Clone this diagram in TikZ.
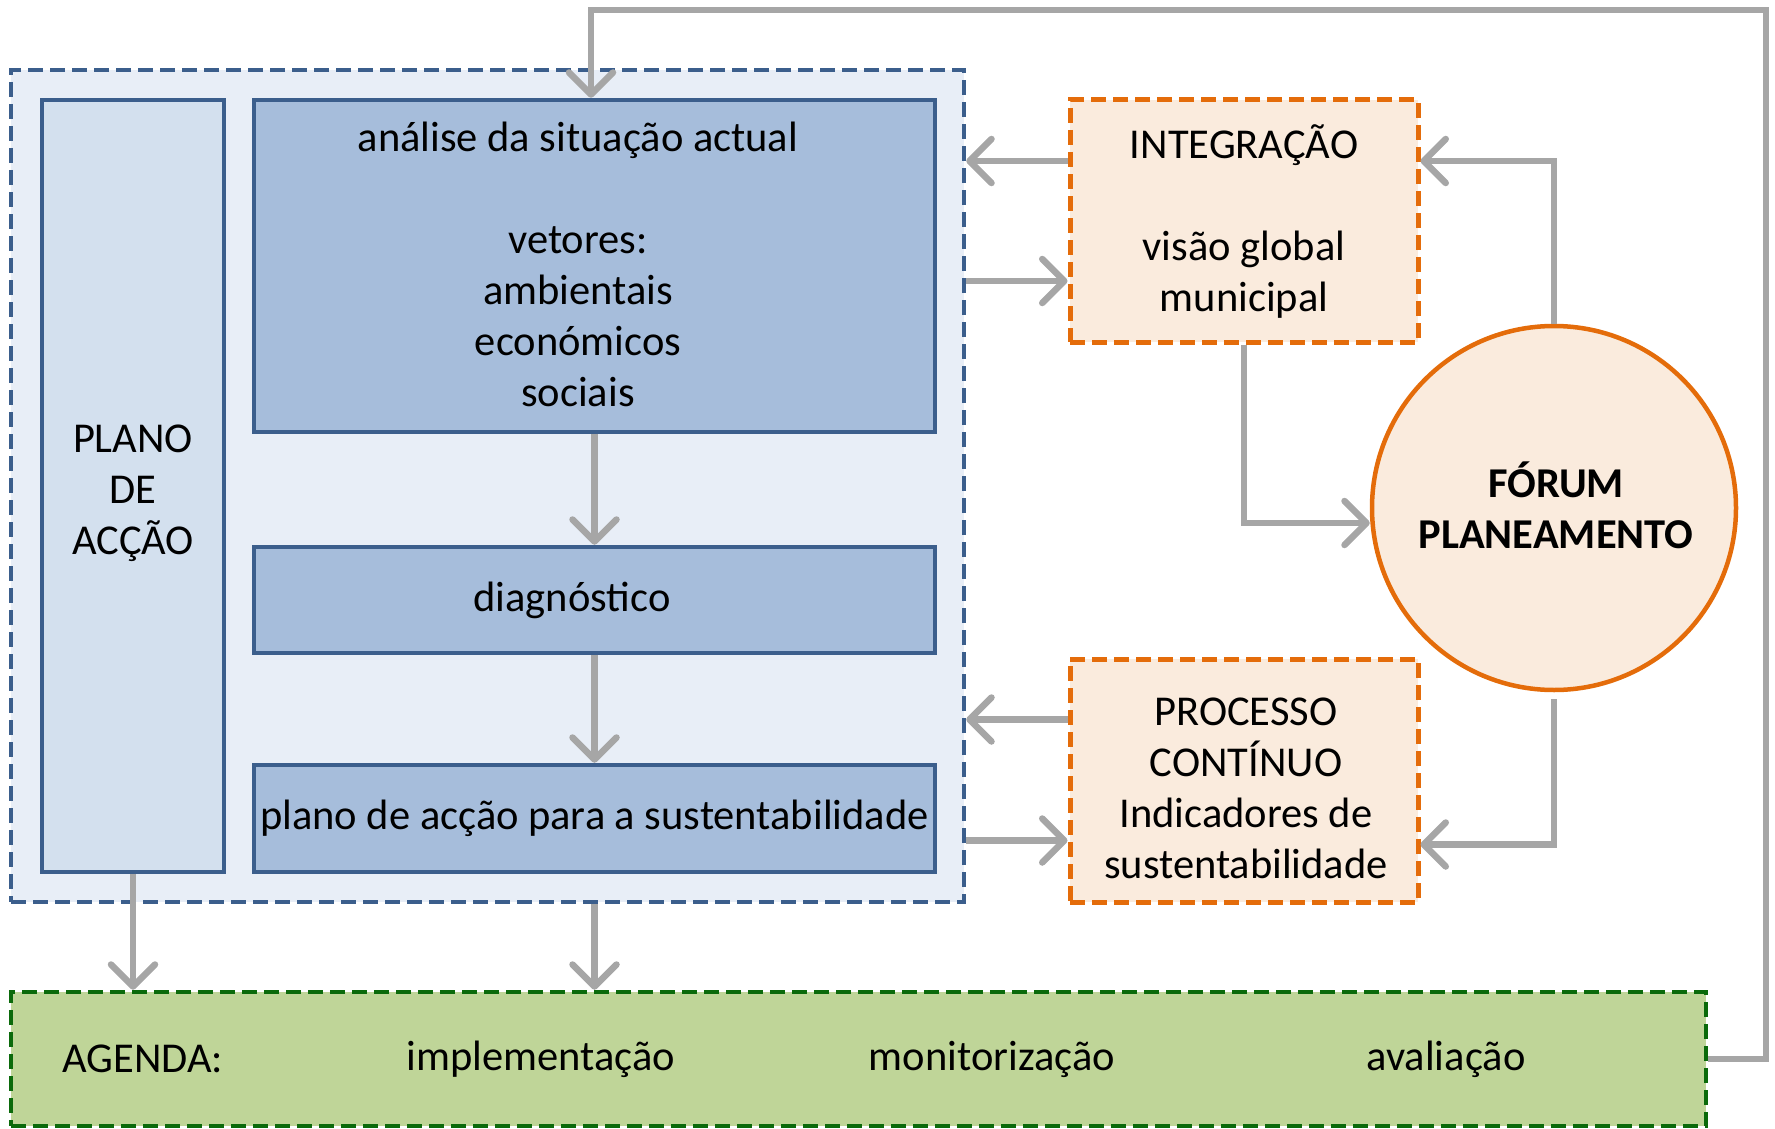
\documentclass[tikz,border=0pt]{standalone}
\usepackage{fontspec}
\setmainfont{Carlito}
\usetikzlibrary{arrows.meta}
\definecolor{gline}{HTML}{A6A6A6}
\definecolor{bdark}{HTML}{3B5E8C}
\definecolor{bouter}{HTML}{E8EEF7}
\definecolor{blight}{HTML}{D3E0EE}
\definecolor{bmid}{HTML}{A6BDDB}
\definecolor{odark}{HTML}{E46C0A}
\definecolor{olight}{HTML}{FAEBDD}
\definecolor{gdark}{HTML}{0B6A0B}
\definecolor{glight}{HTML}{BFD598}
\begin{document}
\begin{tikzpicture}[x=1pt,y=-1pt,
  every node/.style={font=\fontsize{42.5}{51}\selectfont, align=center, inner sep=0pt},
  outerbox/.style={draw=bdark, fill=bouter, line width=4.5pt, dash pattern=on 15pt off 7pt, minimum width=953pt, minimum height=832pt},
  sidebox/.style={draw=bdark, fill=blight, line width=4.5pt, minimum width=182pt, minimum height=772pt},
  bluebox/.style={draw=bdark, fill=bmid, line width=4.5pt, minimum width=681pt},
  orbox/.style={draw=odark, fill=olight, line width=5pt, dash pattern=on 15pt off 7pt, minimum width=348pt},
  agbox/.style={draw=gdark, fill=glight, line width=4.5pt, dash pattern=on 15pt off 7pt, minimum width=1695pt, minimum height=134pt},
  conn/.style={draw=gline, line width=6.5pt, -{Straight Barb[length=22pt,width=44pt,round]}}]
\useasboundingbox (0,0) rectangle (1775,1129);
% boxes
\node[outerbox] (outer) at (487.5,486) {};
\node[sidebox] (pa) at (133,486) {};
\node (pat) at (133,493) {PLANO\\DE\\ACÇÃO};
\node[bluebox, minimum height=332pt] (ana) at (594.5,266) {};
\node (anat) at (578,264) {análise da situação actual\\[51pt]vetores:\\ambientais\\económicos\\sociais};
\node[bluebox, minimum height=106pt] (diag) at (594.5,600) {};
\node (diagt) at (572,600) {diagnóstico};
\node[bluebox, minimum height=107pt] (plan) at (594.5,818.5) {plano de acção para a sustentabilidade};
\node[orbox, minimum height=242pt] (intg) at (1244,221) {INTEGRAÇÃO\\[51pt]visão global\\municipal};
\node[orbox, minimum height=243pt] (proc) at (1244,780.5) {};
\node (proct) at (1246,788) {PROCESSO\\CONTÍNUO\\Indicadores de\\sustentabilidade};
\node[circle, draw=odark, fill=olight, line width=4.5pt, minimum size=364pt] (forum) at (1554,508) {};
\node (forumt) at (1556,505) {\bfseries FÓRUM\\\bfseries PLANEAMENTO};
\node[agbox] (ag) at (858.5,1059) {};
\node[anchor=west] (agt) at (62,1059) {AGENDA:};
\node (imp) at (541,1059) {implementação};
\node (mon) at (992,1059) {monitorização};
\node (ava) at (1446,1059) {avaliação};
% connectors
\draw[conn] (ana.south) -- (diag.north);
\draw[conn] (diag.south) -- (plan.north);
\draw[conn] (pa.south) -- (pa.south |- ag.north);
\draw[conn] (ana.south |- outer.south) -- (ana.south |- ag.north);
\draw[conn] ([yshift=60pt]intg.west) -- ([yshift=60pt]intg.west -| outer.east);
\draw[conn] ([yshift=-60pt]intg.west -| outer.east) -- ([yshift=-60pt]intg.west);
\draw[conn] ([yshift=61pt]proc.west) -- ([yshift=61pt]proc.west -| outer.east);
\draw[conn] ([yshift=-60pt]proc.west -| outer.east) -- ([yshift=-60pt]proc.west);
\draw[conn] (forum.north) |- ([yshift=60pt]intg.east);
\draw[conn] (intg.south) |- ([yshift=-15pt]forum.west);
\draw[conn, shorten <=7pt] (forum.south) |- ([yshift=-64pt]proc.east);
\coordinate (fbr) at (1766,10);
\coordinate (fbl) at (591,10);
\draw[conn] (ag.east) -| (fbr) -- (fbl) -- (fbl |- ana.north);
\end{tikzpicture}
\end{document}
